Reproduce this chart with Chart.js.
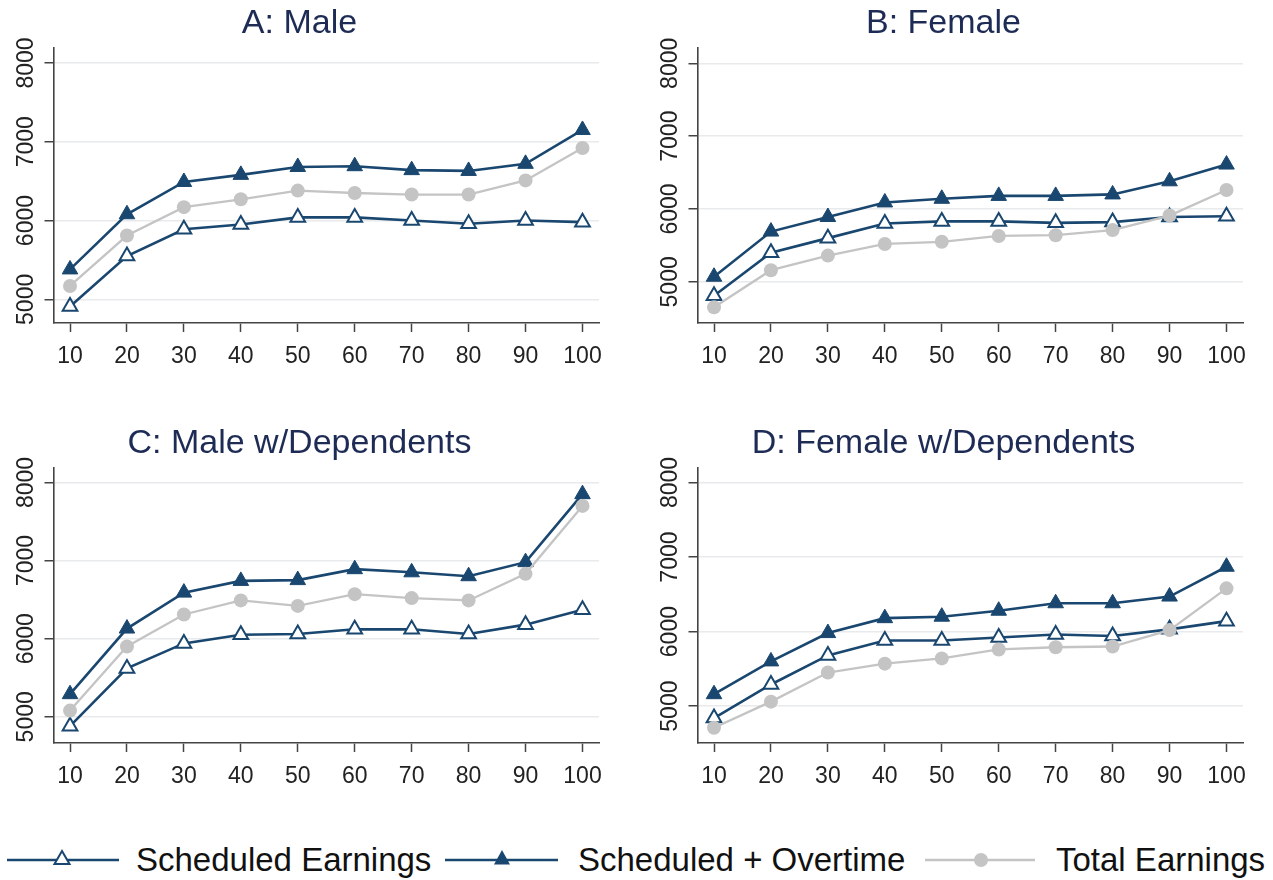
<!DOCTYPE html>
<html>
<head>
<meta charset="utf-8">
<script src="https://cdn.jsdelivr.net/npm/chart.js@4.4.1/dist/chart.umd.min.js"></script>
<style>
  html, body { margin: 0; padding: 0; background: #fff; overflow: hidden; }
  body { width: 1273px; height: 880px; position: relative; font-family: "Liberation Sans", Arial, sans-serif; }
  .panel { position: absolute; width: 620px; height: 390px; }
  .leg { position: absolute; top: 845px; height: 30px; }
  .legtxt { position: absolute; top: 838px; font-size: 33px; line-height: 44px; color: #111; white-space: nowrap; }
</style>
</head>
<body>
<div class="panel" style="left:0;top:0"><canvas id="cA" width="620" height="390"></canvas></div>
<div class="panel" style="left:644px;top:0"><canvas id="cB" width="620" height="390"></canvas></div>
<div class="panel" style="left:0;top:420px"><canvas id="cC" width="620" height="390"></canvas></div>
<div class="panel" style="left:644px;top:420px"><canvas id="cD" width="620" height="390"></canvas></div>

<svg class="leg" style="left:7px" width="112" height="30">
  <line x1="0" y1="15" x2="112" y2="15" stroke="#1a476f" stroke-width="2.6"/>
  <polygon points="55,6 62.5,19 47.5,19" fill="#fff" stroke="#1a476f" stroke-width="2"/>
</svg>
<span class="legtxt" style="left:136px">Scheduled Earnings</span>
<svg class="leg" style="left:445px" width="113" height="30">
  <line x1="0" y1="15" x2="113" y2="15" stroke="#1a476f" stroke-width="2.6"/>
  <polygon points="57,5 65,19.5 49,19.5" fill="#1a476f"/>
</svg>
<span class="legtxt" style="left:578px">Scheduled + Overtime</span>
<svg class="leg" style="left:925px" width="110" height="30">
  <line x1="0" y1="15" x2="110" y2="15" stroke="#c4c4c4" stroke-width="2.4"/>
  <circle cx="56" cy="15" r="7" fill="#c4c4c4"/>
</svg>
<span class="legtxt" style="left:1056px">Total Earnings</span>

<script>
// percentiles on the x axis
const pct = [10, 20, 30, 40, 50, 60, 70, 80, 90, 100];
const yTicks = [5000, 6000, 7000, 8000];

// A: Male
const schedA = [4910, 5550, 5890, 5950, 6040, 6040, 6000, 5960, 6000, 5980];
const overA  = [5380, 6080, 6490, 6580, 6680, 6690, 6640, 6630, 6720, 7150];
const totalA = [5170, 5810, 6170, 6270, 6380, 6350, 6330, 6330, 6510, 6920];

// B: Female
const schedB = [4810, 5400, 5600, 5800, 5830, 5830, 5810, 5820, 5890, 5900];
const overB  = [5070, 5690, 5890, 6090, 6140, 6180, 6180, 6200, 6380, 6610];
const totalB = [4650, 5160, 5360, 5520, 5550, 5630, 5640, 5710, 5910, 6260];

// C: Male w/Dependents
const schedC = [4880, 5620, 5940, 6050, 6060, 6120, 6120, 6060, 6180, 6370];
const overC  = [5290, 6130, 6590, 6740, 6750, 6890, 6850, 6800, 6980, 7850];
const totalC = [5080, 5900, 6310, 6490, 6420, 6570, 6520, 6490, 6830, 7700];

// D: Female w/Dependents
const schedD = [4840, 5290, 5680, 5880, 5880, 5920, 5960, 5940, 6030, 6140];
const overD  = [5160, 5600, 5980, 6180, 6200, 6280, 6380, 6380, 6470, 6870];
const totalD = [4710, 5060, 5450, 5570, 5640, 5760, 5790, 5800, 6020, 6580];

// y axis ranges per panel (A, B, C, D)
const yMin = [4700, 4435, 4665, 4505];
const yMax = [8190, 8210, 8185, 8195];

const navy = '#1a476f';
const grey = '#c4c4c4';
const fontFam = '"Liberation Sans", Arial, sans-serif';
Chart.defaults.font.family = fontFam;

var xy = function(vals) {
    return pct.map((p, i) => ({x: p, y: vals[i]}));
};

// rotated y tick labels, Stata style
const yLabels = {
    id: 'yLabels',
    afterDraw(chart) {
        const ctx = chart.ctx, s = chart.scales.y;
        ctx.save();
        ctx.font = '23px ' + fontFam;
        ctx.fillStyle = '#222';
        ctx.textAlign = 'center';
        ctx.textBaseline = 'alphabetic';
        yTicks.forEach(v => {
            ctx.save();
            ctx.translate(chart.chartArea.left - 20.5, s.getPixelForValue(v));
            ctx.rotate(-Math.PI / 2);
            ctx.fillText(String(v), 0, 0);
            ctx.restore();
        });
        ctx.restore();
    }
};

function panel(id, title, sched, over, total, k) {
    const ctx = document.getElementById(id).getContext('2d');
    new Chart(ctx, {
        type: 'line',
        data: {
            datasets: [{
                label: 'Scheduled Earnings',
                data: xy(sched),
                borderColor: navy, borderWidth: 2.6,
                pointStyle: 'triangle', pointRadius: 8.5,
                pointBackgroundColor: '#fff', pointBorderColor: navy, pointBorderWidth: 2,
                order: 3
            }, {
                label: 'Scheduled + Overtime',
                data: xy(over),
                borderColor: navy, borderWidth: 2.6,
                pointStyle: 'triangle', pointRadius: 9,
                pointBackgroundColor: navy, pointBorderColor: navy, pointBorderWidth: 1,
                order: 2
            }, {
                label: 'Total Earnings',
                data: xy(total),
                borderColor: grey, borderWidth: 2.3,
                pointStyle: 'circle', pointRadius: 7,
                pointBackgroundColor: grey, pointBorderColor: grey, pointBorderWidth: 0,
                order: 1
            }]
        },
        options: {
            responsive: false,
            animation: false,
            layout: { padding: { left: 0, right: 21, top: 0, bottom: 0 } },
            plugins: {
                legend: { display: false },
                tooltip: { enabled: false },
                title: {
                    display: true, text: title, color: '#1d2b55',
                    font: { size: 34, weight: 'normal' },
                    padding: { top: 3.6, bottom: 3.6 }
                }
            },
            scales: {
                x: {
                    type: 'linear', min: 7.1, max: 102.9,
                    afterBuildTicks: s => { s.ticks = pct.map(v => ({value: v})); },
                    afterFit: s => { s.height = 67; },
                    grid: { drawOnChartArea: false, drawTicks: true, tickLength: 9, tickColor: '#444', tickWidth: 1.5 },
                    border: { color: '#444', width: 1.6 },
                    ticks: { color: '#222', font: { size: 23 }, padding: 11, maxRotation: 0 }
                },
                y: {
                    type: 'linear', min: yMin[k], max: yMax[k],
                    afterBuildTicks: s => { s.ticks = yTicks.map(v => ({value: v})); },
                    afterFit: s => { s.width = 53.5; },
                    grid: { color: '#e8eaec', lineWidth: 1.5, drawTicks: true, tickLength: 9, tickColor: '#444', tickWidth: 1.5 },
                    border: { color: '#444', width: 1.6 },
                    ticks: { display: false }
                }
            }
        },
        plugins: [yLabels]
    });
}

panel('cA', 'A: Male', schedA, overA, totalA, 0);
panel('cB', 'B: Female', schedB, overB, totalB, 1);
panel('cC', 'C: Male w/Dependents', schedC, overC, totalC, 2);
panel('cD', 'D: Female w/Dependents', schedD, overD, totalD, 3);
</script>
</body>
</html>
